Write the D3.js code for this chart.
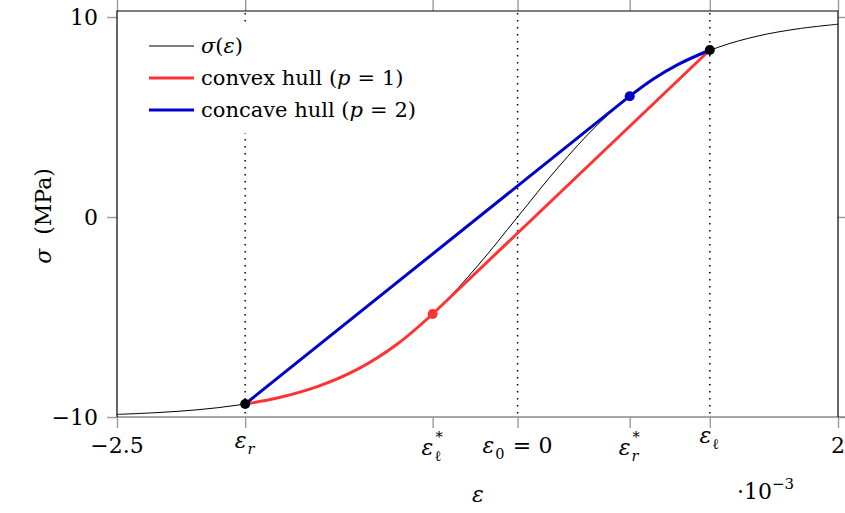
<!DOCTYPE html>
<html>
<head>
<meta charset="utf-8">
<script src="https://cdn.jsdelivr.net/npm/d3@7/dist/d3.min.js"></script>
<style>
  html, body { margin: 0; padding: 0; background: #fff; }
  svg { display: block; }
  svg text { font-family: "DejaVu Serif", serif; }
</style>
</head>
<body>
<svg id="chart" width="845" height="513"></svg>
<script>
// ---------------- data (strain in 10^-3) ----------------
const strainSamples = [-2.5, -2.25, -2.0, -1.75, -1.5, -1.25, -1.0, -0.75, -0.5, -0.25, 0, 0.25, 0.5, 0.75, 1.0, 1.25, 1.5, 1.75, 2.0];
const stressSamples = [-9.87, -9.78, -9.64, -9.41, -9.05, -8.48, -7.62, -6.35, -4.62, -2.45, 0, 2.45, 4.62, 6.35, 7.62, 8.48, 9.05, 9.41, 9.64];

// convex hull (p = 1): follows curve from eps_r to eps_l*, then straight to eps_l
const convexStrain = [-1.7, -1.5, -1.25, -1.0, -0.75, -0.53, 1.2];
const convexStress = [-9.35, -9.05, -8.48, -7.62, -6.35, -4.85, 8.35];

// concave hull (p = 2): straight from eps_r to eps_r*, then follows curve to eps_l
const concaveStrain = [-1.7, 0.7, 0.85, 1.0, 1.2];
const concaveStress = [-9.35, 6.04, 6.91, 7.62, 8.35];

const xTickValues = [-2.5, -1.7, -0.53, 0, 0.7, 1.2, 2];
const xTickLabels = [
  {main: "\u22122.5"},
  {main: "\u03b5", italic: true, sub: "r", subItalic: true},
  {main: "\u03b5", italic: true, sub: "\u2113", sup: "*"},
  {main: "\u03b5", italic: true, sub: "0", tail: "\u2004=\u20040"},
  {main: "\u03b5", italic: true, sub: "r", subItalic: true, sup: "*"},
  {main: "\u03b5", italic: true, sub: "\u2113"},
  {main: "2"}
];
const yTickValues = [-10, 0, 10];
const yTickLabels = ["\u221210", "0", "10"];
const dottedAt = [-1.7, 0, 1.2];

const seriesNames = ["\u03c3(\u03b5)", "convex hull (p = 1)", "concave hull (p = 2)"];

// ---------------- drawing ----------------
const svg = d3.select("#chart");
const L = 117, R = 838, T = 11, B = 417;
const x = d3.scaleLinear().domain([-2.5, 2]).range([L, R]);
const y = d3.scaleLinear().domain([-10, 10]).range([417, 17]);

const colBlack = "#000", colRed = "#ff3333", colBlue = "#0000cc", tickCol = "#9a9a9a";
const FS = 21, TFS = 22;

// ticks (outward, both sides)
const gxB = svg.append("g").attr("transform", `translate(0,${B})`)
  .call(d3.axisBottom(x).tickValues(xTickValues).tickSize(11).tickFormat(""));
const gxT = svg.append("g").attr("transform", `translate(0,${T})`)
  .call(d3.axisTop(x).tickValues(xTickValues).tickSize(11).tickFormat(""));
const gyL = svg.append("g").attr("transform", `translate(${L},0)`)
  .call(d3.axisLeft(y).tickValues(yTickValues).tickSize(10).tickFormat(""));
const gyR = svg.append("g").attr("transform", `translate(${R},0)`)
  .call(d3.axisRight(y).tickValues(yTickValues).tickSize(10).tickFormat(""));
[gxB, gxT, gyL, gyR].forEach(g => {
  g.select(".domain").remove();
  g.selectAll(".tick line").attr("stroke", tickCol).attr("stroke-width", 1.4);
});

// dotted verticals
svg.append("g").selectAll("line").data(dottedAt).join("line")
  .attr("x1", d => x(d)).attr("x2", d => x(d))
  .attr("y1", T + 2).attr("y2", B)
  .attr("stroke", "#000").attr("stroke-width", 1.5)
  .attr("stroke-dasharray", "1.4,5.6");

// black curve
const curvePts = strainSamples.map((s, i) => [s, stressSamples[i]]);
const smooth = d3.line().x(d => x(d[0])).y(d => y(d[1])).curve(d3.curveCatmullRom.alpha(0.5));
const straight = d3.line().x(d => x(d[0])).y(d => y(d[1]));

svg.append("path").attr("d", smooth(curvePts))
  .attr("fill", "none").attr("stroke", colBlack).attr("stroke-width", 1);

// convex hull
const cvx = convexStrain.map((s, i) => [s, convexStress[i]]);
const cvxCurve = cvx.slice(0, cvx.length - 1);
const cvxLine = cvx.slice(cvx.length - 2);
svg.append("path").attr("d", smooth(cvxCurve) + straight(cvxLine).replace(/^M/, "L"))
  .attr("fill", "none").attr("stroke", colRed).attr("stroke-width", 3)
  .attr("stroke-linejoin", "round");

// concave hull
const ccv = concaveStrain.map((s, i) => [s, concaveStress[i]]);
const ccvLine = ccv.slice(0, 2);
const ccvCurve = ccv.slice(1);
svg.append("path").attr("d", straight(ccvLine) + smooth(ccvCurve).replace(/^M/, "L"))
  .attr("fill", "none").attr("stroke", colBlue).attr("stroke-width", 3)
  .attr("stroke-linejoin", "round");

// frame
svg.append("line").attr("x1", L).attr("x2", 845).attr("y1", B).attr("y2", B)
  .attr("stroke", "#8a8a8a").attr("stroke-width", 1.6);
svg.append("path").attr("d", `M${L},${B}V${T}H${R}V${B}`)
  .attr("fill", "none").attr("stroke", "#000").attr("stroke-width", 1.2);

// markers
const markers = [
  {p: cvx[cvx.length - 2], c: colRed},
  {p: ccv[1], c: colBlue},
  {p: cvx[0], c: colBlack},
  {p: cvx[cvx.length - 1], c: colBlack}
];
svg.append("g").selectAll("circle").data(markers).join("circle")
  .attr("cx", d => x(d.p[0])).attr("cy", d => y(d.p[1])).attr("r", 5)
  .attr("fill", d => d.c);

// legend
svg.append("rect").attr("x", 132).attr("y", 23).attr("width", 300).attr("height", 110).attr("fill", "#fff");
const legCols = [colBlack, colRed, colBlue];
const legW = [1, 3, 3];
seriesNames.forEach((name, i) => {
  const ly = 46 + i * 32;
  svg.append("line").attr("x1", 149).attr("x2", 194).attr("y1", ly).attr("y2", ly)
    .attr("stroke", legCols[i]).attr("stroke-width", legW[i]);
  const t = svg.append("text").attr("x", 201).attr("y", ly + 7).attr("font-size", FS);
  if (i === 0) {
    t.append("tspan").attr("font-style", "italic").text("\u03c3");
    t.append("tspan").text("(");
    t.append("tspan").attr("font-style", "italic").text("\u03b5");
    t.append("tspan").text(")");
  } else {
    const m = name.match(/^(.*\()p = (\d)\)$/);
    t.append("tspan").text(m[1]);
    t.append("tspan").attr("font-style", "italic").text("p");
    t.append("tspan").text("\u2004=\u2004" + m[2] + ")");
  }
});

// y tick labels
yTickValues.forEach((v, i) => {
  svg.append("text").attr("x", 98).attr("y", y(v) + 8).attr("text-anchor", "end")
    .attr("font-size", TFS).text(yTickLabels[i]);
});

// x tick labels
function baselineFor(lab) {
  if (lab.sup) return 455;
  if (lab.sub === "\u2113") return 443;
  if (lab.sub === "r") return 448;
  return 453;
}
xTickValues.forEach((v, i) => {
  const lab = xTickLabels[i];
  const g = svg.append("g");
  const by = baselineFor(lab);
  const t1 = g.append("text").attr("x", 0).attr("y", by).attr("font-size", TFS)
    .attr("font-style", lab.italic ? "italic" : null).text(lab.main);
  let w = t1.node().getComputedTextLength();
  let extra = 0;
  if (lab.sub || lab.sup) {
    let sw = 0;
    if (lab.sub) {
      const ts = g.append("text").attr("x", w + 1).attr("y", by + 6).attr("font-size", TFS * 0.66)
        .attr("font-style", lab.subItalic ? "italic" : null).text(lab.sub);
      sw = Math.max(sw, ts.node().getComputedTextLength());
    }
    if (lab.sup) {
      const tp = g.append("text").attr("x", w + 2).attr("y", by - 13).attr("font-size", TFS * 0.66).text(lab.sup);
      sw = Math.max(sw, tp.node().getComputedTextLength() + 1);
    }
    extra = sw + 2;
  }
  w += extra;
  if (lab.tail) {
    const tt = g.append("text").attr("x", w).attr("y", by).attr("font-size", TFS).text(lab.tail);
    w += tt.node().getComputedTextLength();
  }
  g.attr("transform", `translate(${x(v) - w / 2},0)`);
});

// axis labels
svg.append("text").attr("transform", "translate(51,216) rotate(-90)").attr("text-anchor", "middle")
  .attr("font-size", TFS)
  .call(t => {
    t.append("tspan").attr("font-style", "italic").text("\u03c3");
    t.append("tspan").attr("dx", 14).text("(MPa)");
  });
svg.append("text").attr("x", 478).attr("y", 502).attr("text-anchor", "middle")
  .attr("font-size", TFS).attr("font-style", "italic").text("\u03b5");
svg.append("text").attr("x", 737).attr("y", 499).attr("font-size", TFS)
  .call(t => {
    t.append("tspan").text("\u00b710");
    t.append("tspan").attr("font-size", TFS * 0.68).attr("dy", -10).text("\u22123");
  });
</script>
</body>
</html>
